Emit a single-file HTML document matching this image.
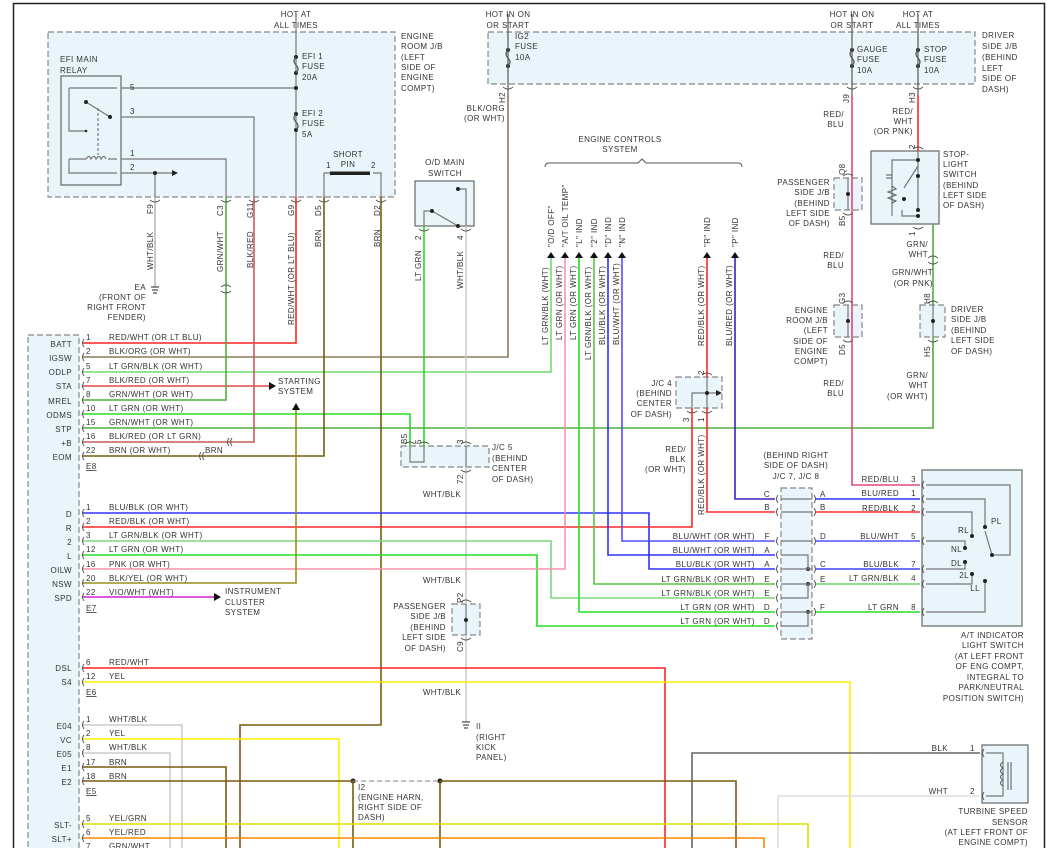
<!DOCTYPE html>
<html><head><meta charset="utf-8"><style>
html,body{margin:0;padding:0;background:#fff}
svg{display:block}
text{font-family:"Liberation Sans",sans-serif;font-size:8px;fill:#333;letter-spacing:.4px}
.w{fill:none;stroke-width:1.6}
.g{fill:none;stroke:#777;stroke-width:1.2}
.box{fill:#e9f5fb;stroke:#888;stroke-width:1.2;stroke-dasharray:6 3}
.sbox{fill:#e9f5fb;stroke:#666;stroke-width:1.2}
</style></head><body>
<svg width="1047" height="848" viewBox="0 0 1047 848" xmlns="http://www.w3.org/2000/svg">
<rect x="13.5" y="3.5" width="1031" height="850" fill="#fff" stroke="#222" stroke-width="1.5"/>

<rect class="box" x="48" y="32" width="347" height="165"/>
<rect class="box" x="488" y="32" width="487" height="52"/>
<rect class="box" x="28" y="335" width="51" height="520"/>
<rect class="box" x="401" y="446" width="88" height="21"/>
<rect class="box" x="676" y="377" width="46" height="31"/>
<rect class="box" x="781" y="488" width="31" height="151"/>
<rect class="box" x="452" y="604" width="28" height="31"/>
<rect class="box" x="834" y="178" width="28" height="32"/>
<rect class="box" x="834" y="305" width="28" height="32"/>
<rect class="box" x="920" y="305" width="25" height="32"/>
<rect class="sbox" x="61" y="76" width="60" height="109" fill="#e9f5fb"/>
<rect class="sbox" x="415" y="181" width="59" height="45"/>
<rect class="sbox" x="871" y="151" width="68" height="73"/>
<rect class="sbox" x="922" y="470" width="100" height="156"/>
<rect class="sbox" x="982" y="745" width="46" height="58"/>

<g class="g">
<path d="M296 14 V197"/>
<path d="M121 88 H296"/><path d="M121 117 H254 V197"/><path d="M121 159 H226 V197"/><path d="M121 173 H172"/>
<path d="M155 173 V197"/>
<path d="M69 88 H117"/><path d="M69 88 V131 H86"/>
<path d="M86 102 L110 117" /><path d="M98 108 V155" stroke-dasharray="3 2"/>
<path d="M69 159 H86 M69 159 V173 H117 M108 159 H117"/>
<path d="M86 159 q3 -5 5 0 q3 -5 5 0 q3 -5 5 0 q3 -5 5 0"/>
<path d="M324 197 V173 H330 M381 197 V173 H373"/>
<path d="M424 226 V211 H432 L458 226 M466 226 V189 H458"/>
<path d="M410 446 V462 H424 V446 M466 446 V467"/>
<path d="M466 604 V635"/>
<path d="M707 377 V408 M692 408 V393 H716"/>
<path d="M848 178 V210 M848 305 V337 M933 305 V337"/>
<path d="M918 151 V210 M918 166 L904 188 M902 210 V216 H918 M918 160 H892 V216 M892 170 V202"/>
</g>
<path d="M892 175 h-6 M892 178 h-6" stroke="#555"/>
<path d="M892 186 l4 3 -8 3 8 3 -8 3 8 3 -4 2" fill="none" stroke="#555"/>
<rect x="330" y="171.5" width="40" height="3.5" fill="#222"/>
<g fill="#222">
<circle cx="296" cy="57" r="2"/><circle cx="296" cy="73" r="2"/><circle cx="296" cy="88" r="2"/>
<circle cx="296" cy="114" r="2"/><circle cx="296" cy="130" r="2"/><circle cx="155" cy="173" r="2"/>
<circle cx="86" cy="102" r="2"/><circle cx="110" cy="117" r="2"/><circle cx="86" cy="131" r="1.3"/>
<circle cx="432" cy="211" r="2"/><circle cx="458" cy="226" r="2"/><circle cx="458" cy="189" r="2"/>
<circle cx="508" cy="50" r="2"/><circle cx="508" cy="66" r="2"/>
<circle cx="852" cy="50" r="2"/><circle cx="852" cy="66" r="2"/>
<circle cx="918" cy="50" r="2"/><circle cx="918" cy="66" r="2"/>
<circle cx="707" cy="393" r="2"/><circle cx="848" cy="194" r="2"/><circle cx="848" cy="321" r="2"/><circle cx="933" cy="321" r="2"/>
<circle cx="466" cy="620" r="2"/>
<circle cx="918" cy="160" r="2"/><circle cx="918" cy="176" r="2"/><circle cx="904" cy="199" r="2"/><circle cx="918" cy="210" r="2"/><circle cx="918" cy="216" r="2"/>
<circle cx="808" cy="569" r="2"/><circle cx="808" cy="584" r="2"/><circle cx="808" cy="612" r="2"/>
<circle cx="353" cy="781" r="2.5"/><circle cx="440" cy="781" r="2.5"/>
<path d="M172 170 l6 3 -6 3z M716 390 l6 3 -6 3z"/>
</g>
<g fill="none" stroke="#555" stroke-width="1.2">
<path d="M296 57 q-4 4 0 8 q4 4 0 8 M296 114 q-4 4 0 8 q4 4 0 8"/>
<path d="M508 50 q-4 4 0 8 q4 4 0 8 M852 50 q-4 4 0 8 q4 4 0 8 M918 50 q-4 4 0 8 q4 4 0 8"/>
<path d="M508 14 V95 M852 14 V95 M918 14 V95"/>
</g>

<g class="w">
<path stroke="#ff2222" d="M296 197 V343 H82"/>
<path stroke="#8c7a60" d="M508 95 V357 H82"/>
<path stroke="#6fdc6f" d="M551 258 V372 H82"/>
<path stroke="#e04848" d="M82 386 H270"/>
<path stroke="#4fae3a" d="M226 197 V400 H82"/>
<path stroke="#20e020" d="M82 414 H410 V446"/>
<path stroke="#20e020" d="M424 226 V446"/>
<path stroke="#4fae3a" d="M82 428 H933 V337"/>
<path stroke="#4fae3a" d="M933 305 V224"/>
<path stroke="#c85a5a" d="M254 197 V442 H82"/>
<path stroke="#7a5a10" d="M324 197 V456 H82"/>
<path stroke="#bbb" d="M155 197 V287"/>
<path stroke="#ccc" d="M466 226 V446 M466 467 V604 M466 635 V722"/>
<path stroke="#7a5a10" d="M381 197 V725 H240 V850"/>
<path stroke="#3030ff" d="M82 513 H649 V569 H775"/>
<path stroke="#ff2828" d="M82 527 H692 V408"/>
<path stroke="#7fd67f" d="M82 541 H551 V598 H775"/>
<path stroke="#22e022" d="M82 555 H537 V626 H775"/>
<path stroke="#ff90a8" d="M82 569 H565 V258"/>
<path stroke="#9a8e20" d="M82 583 H296 V408"/>
<path stroke="#d020d0" d="M82 597 H214"/>
<path stroke="#22e022" d="M579 258 V612 H775"/>
<path stroke="#55c83c" d="M594 258 V584 H775"/>
<path stroke="#3030ff" d="M608 258 V555 H775"/>
<path stroke="#5050ff" d="M622 258 V541 H775"/>
<path stroke="#ff2828" d="M707 258 V377"/>
<path stroke="#ff2828" d="M707 408 V512 H775"/>
<path stroke="#3a20c0" d="M735 258 V499 H775"/>
<path stroke="#e04878" d="M852 95 V485 H920"/>
<path stroke="#ff2828" d="M918 95 V151"/>
<path stroke="#3030ff" d="M816 499 H920"/>
<path stroke="#ff2828" d="M816 512 H920"/>
<path stroke="#5050ff" d="M816 541 H920"/>
<path stroke="#4040ff" d="M816 569 H920"/>
<path stroke="#6fd06f" d="M816 584 H920"/>
<path stroke="#22e022" d="M816 612 H920"/>
<path stroke="#ff2222" d="M82 668 H665 V850"/>
<path stroke="#ffee00" d="M82 682 H850 V850"/>
<path stroke="#ccc" d="M82 725 H182 V850"/>
<path stroke="#ffee00" d="M82 739 H339 V850"/>
<path stroke="#ccc" d="M82 753 H170 V850"/>
<path stroke="#7a5a10" d="M82 767 H226 V850"/>
<path stroke="#7a5a10" d="M82 781 H353 V850"/>
<path stroke="#7a5a10" d="M440 781 H736 V850 M440 781 V850"/>
<path stroke="#666" d="M980 753 H692 V850"/>
<path stroke="#ddd" d="M980 796 H778 V850"/>
<path stroke="#dde000" d="M82 824 H808 V850"/>
<path stroke="#ff8800" d="M82 838 H764 V850"/>
<path stroke="#4fae3a" d="M82 852 H300"/>
</g>
<path d="M353 781 H440" stroke="#888" stroke-dasharray="5 3"/>
<g class="g">
<path d="M781 499 H812 M781 512 H812 M781 541 H812 M781 555 H808 V569 M781 569 H812 M781 584 H812 M781 598 H808 V584 M781 612 H812 M781 626 H808 V612"/>
<path d="M926 485 H1010 V555 H992 M926 499 H985 V527 M926 512 H972 V536 M926 541 H965 V548 M926 569 H965 V562 M926 584 H972 V574 M926 612 H985 V581"/>
<path d="M985 531 L992 555"/>
<path d="M986 753 H1003 V796 H986"/>
</g>
<path d="M1003 762 q-5 3 0 6 q-5 3 0 6 q-5 3 0 6 q-5 3 0 6" fill="none" stroke="#555"/>
<path d="M1008 762 V790 M1011 762 V790" stroke="#555"/>
<g fill="#222"><circle cx="985" cy="527" r="2"/><circle cx="992" cy="555" r="2"/><circle cx="972" cy="536" r="2"/><circle cx="965" cy="548" r="2"/><circle cx="965" cy="562" r="2"/><circle cx="972" cy="574" r="2"/><circle cx="985" cy="581" r="2"/></g>

<g fill="#111">
<path d="M547 258 l4 -6 4 6z M561 258 l4 -6 4 6z M575 258 l4 -6 4 6z M590 258 l4 -6 4 6z M604 258 l4 -6 4 6z M618 258 l4 -6 4 6z M703 258 l4 -6 4 6z M731 258 l4 -6 4 6z"/>
<path d="M269 382 l7 4 -7 4z M292 410 l4 -7 4 7z M214 593 l7 4 -7 4z"/>
</g>
<g stroke="#222"><path d="M151 287 h8 M152 290 h6 M153 293 h4" /><path d="M462 722 h8 M463 725 h6 M464 728 h4"/></g>
<g fill="none" stroke="#555" stroke-width="1">
<path d="M150 200 q5 4 10 0 M221 200 q5 4 10 0 M249 200 q5 4 10 0 M291 200 q5 4 10 0 M319 200 q5 4 10 0 M376 200 q5 4 10 0 M503 87 q5 4 10 0 M847 87 q5 4 10 0 M913 87 q5 4 10 0"/>
<path d="M419 229 q5 4 10 0 M461 229 q5 4 10 0 M221 287 q5 -4 10 0 M221 291 q5 4 10 0"/>
<path d="M84 339 q-3 4 0 8 M84 353 q-3 4 0 8 M84 368 q-3 4 0 8 M84 382 q-3 4 0 8 M84 396 q-3 4 0 8 M84 410 q-3 4 0 8 M84 424 q-3 4 0 8 M84 438 q-3 4 0 8 M84 452 q-3 4 0 8"/>
<path d="M84 509 q-3 4 0 8 M84 523 q-3 4 0 8 M84 537 q-3 4 0 8 M84 551 q-3 4 0 8 M84 565 q-3 4 0 8 M84 579 q-3 4 0 8 M84 593 q-3 4 0 8 M84 664 q-3 4 0 8 M84 678 q-3 4 0 8 M84 721 q-3 4 0 8 M84 735 q-3 4 0 8 M84 749 q-3 4 0 8 M84 763 q-3 4 0 8 M84 777 q-3 4 0 8 M84 820 q-3 4 0 8 M84 834 q-3 4 0 8"/>
<path d="M229 438 q-3 4 0 8 M232 438 q-3 4 0 8 M201 452 q-3 4 0 8 M204 452 q-3 4 0 8"/>
<path d="M778 495 q-3 4 0 8 M778 508 q-3 4 0 8 M778 537 q-3 4 0 8 M778 551 q-3 4 0 8 M778 565 q-3 4 0 8 M778 580 q-3 4 0 8 M778 594 q-3 4 0 8 M778 608 q-3 4 0 8 M778 622 q-3 4 0 8"/>
<path d="M814 495 q3 4 0 8 M814 508 q3 4 0 8 M814 537 q3 4 0 8 M814 565 q3 4 0 8 M814 580 q3 4 0 8 M814 608 q3 4 0 8"/>
<path d="M924 481 q-3 4 0 8 M924 495 q-3 4 0 8 M924 508 q-3 4 0 8 M924 537 q-3 4 0 8 M924 565 q-3 4 0 8 M924 580 q-3 4 0 8 M924 608 q-3 4 0 8 M984 749 q-3 4 0 8 M984 792 q-3 4 0 8"/>
<path d="M405 444 q5 -4 10 0 M419 444 q5 -4 10 0 M461 444 q5 -4 10 0 M461 470 q5 4 10 0 M461 602 q5 -4 10 0 M461 638 q5 4 10 0 M702 375 q5 -4 10 0 M687 411 q5 4 10 0 M702 411 q5 4 10 0"/>
<path d="M843 176 q5 -4 10 0 M843 213 q5 4 10 0 M843 303 q5 -4 10 0 M843 340 q5 4 10 0 M928 303 q5 -4 10 0 M928 340 q5 4 10 0 M913 149 q5 -4 10 0 M913 227 q5 4 10 0 M928 258 q5 -4 10 0 M928 262 q5 4 10 0"/>
<path d="M545 167 q0 -4 4 -4 H638 l4 -4 4 4 H738 q4 0 4 4"/>
</g>

<g>
<text x="296" y="17" text-anchor="middle">HOT AT</text><text x="296" y="28" text-anchor="middle">ALL TIMES</text>
<text x="508" y="17" text-anchor="middle">HOT IN ON</text><text x="508" y="28" text-anchor="middle">OR START</text>
<text x="852" y="17" text-anchor="middle">HOT IN ON</text><text x="852" y="28" text-anchor="middle">OR START</text>
<text x="918" y="17" text-anchor="middle">HOT AT</text><text x="918" y="28" text-anchor="middle">ALL TIMES</text>
<text x="401" y="39">ENGINE</text><text x="401" y="49">ROOM J/B</text><text x="401" y="60">(LEFT</text><text x="401" y="70">SIDE OF</text><text x="401" y="80">ENGINE</text><text x="401" y="91">COMPT)</text>
<text x="60" y="62">EFI MAIN</text><text x="60" y="73">RELAY</text>
<text x="302" y="59">EFI 1</text><text x="302" y="69">FUSE</text><text x="302" y="80">20A</text>
<text x="302" y="116">EFI 2</text><text x="302" y="126">FUSE</text><text x="302" y="137">5A</text>
<text x="130" y="90" font-size="7">5</text><text x="130" y="114" font-size="7">3</text><text x="130" y="156" font-size="7">1</text><text x="130" y="170" font-size="7">2</text>
<text x="348" y="157" text-anchor="middle">SHORT</text><text x="348" y="167" text-anchor="middle">PIN</text>
<text x="326" y="168" font-size="7">1</text><text x="371" y="168" font-size="7">2</text>
<text x="445" y="165" text-anchor="middle">O/D MAIN</text><text x="445" y="176" text-anchor="middle">SWITCH</text>
<text x="515" y="39">IG2</text><text x="515" y="49">FUSE</text><text x="515" y="60">10A</text>
<text x="857" y="52">GAUGE</text><text x="857" y="62">FUSE</text><text x="857" y="73">10A</text>
<text x="924" y="52">STOP</text><text x="924" y="62">FUSE</text><text x="924" y="73">10A</text>
<text x="982" y="38">DRIVER</text><text x="982" y="49">SIDE J/B</text><text x="982" y="60">(BEHIND</text><text x="982" y="71">LEFT</text><text x="982" y="81">SIDE OF</text><text x="982" y="92">DASH)</text>
<text x="505" y="111" text-anchor="end">BLK/ORG</text><text x="505" y="121" text-anchor="end">(OR WHT)</text>
<text x="620" y="142" text-anchor="middle">ENGINE CONTROLS</text><text x="620" y="152" text-anchor="middle">SYSTEM</text>
<text x="844" y="117" text-anchor="end">RED/</text><text x="844" y="127" text-anchor="end">BLU</text>
<text x="913" y="114" text-anchor="end">RED/</text><text x="913" y="124" text-anchor="end">WHT</text><text x="913" y="134" text-anchor="end">(OR PNK)</text>
<text x="943" y="157">STOP-</text><text x="943" y="167">LIGHT</text><text x="943" y="177">SWITCH</text><text x="943" y="188">(BEHIND</text><text x="943" y="198">LEFT SIDE</text><text x="943" y="208">OF DASH)</text>
<text x="830" y="185" text-anchor="end">PASSENGER</text><text x="830" y="195" text-anchor="end">SIDE J/B</text><text x="830" y="206" text-anchor="end">(BEHIND</text><text x="830" y="216" text-anchor="end">LEFT SIDE</text><text x="830" y="226" text-anchor="end">OF DASH)</text>
<text x="844" y="258" text-anchor="end">RED/</text><text x="844" y="268" text-anchor="end">BLU</text>
<text x="928" y="247" text-anchor="end">GRN/</text><text x="928" y="257" text-anchor="end">WHT</text>
<text x="933" y="275" text-anchor="end">GRN/WHT</text><text x="933" y="286" text-anchor="end">(OR PNK)</text>
<text x="828" y="313" text-anchor="end">ENGINE</text><text x="828" y="323" text-anchor="end">ROOM J/B</text><text x="828" y="333" text-anchor="end">(LEFT</text><text x="828" y="344" text-anchor="end">SIDE OF</text><text x="828" y="354" text-anchor="end">ENGINE</text><text x="828" y="364" text-anchor="end">COMPT)</text>
<text x="951" y="312">DRIVER</text><text x="951" y="322">SIDE J/B</text><text x="951" y="333">(BEHIND</text><text x="951" y="343">LEFT SIDE</text><text x="951" y="354">OF DASH)</text>
<text x="844" y="386" text-anchor="end">RED/</text><text x="844" y="396" text-anchor="end">BLU</text>
<text x="928" y="378" text-anchor="end">GRN/</text><text x="928" y="388" text-anchor="end">WHT</text><text x="928" y="399" text-anchor="end">(OR WHT)</text>
<text x="672" y="386" text-anchor="end">J/C 4</text><text x="672" y="396" text-anchor="end">(BEHIND</text><text x="672" y="406" text-anchor="end">CENTER</text><text x="672" y="417" text-anchor="end">OF DASH)</text>
<text x="686" y="452" text-anchor="end">RED/</text><text x="686" y="462" text-anchor="end">BLK</text><text x="686" y="472" text-anchor="end">(OR WHT)</text>
<text x="796" y="458" text-anchor="middle">(BEHIND RIGHT</text><text x="796" y="468" text-anchor="middle">SIDE OF DASH)</text><text x="796" y="479" text-anchor="middle">J/C 7, J/C 8</text>
<text x="492" y="450">J/C 5</text><text x="492" y="461">(BEHIND</text><text x="492" y="471">CENTER</text><text x="492" y="482">OF DASH)</text>
<text x="442" y="497" text-anchor="middle">WHT/BLK</text><text x="442" y="583" text-anchor="middle">WHT/BLK</text><text x="442" y="695" text-anchor="middle">WHT/BLK</text>
<text x="446" y="609" text-anchor="end">PASSENGER</text><text x="446" y="619" text-anchor="end">SIDE J/B</text><text x="446" y="630" text-anchor="end">(BEHIND</text><text x="446" y="640" text-anchor="end">LEFT SIDE</text><text x="446" y="651" text-anchor="end">OF DASH)</text>
<text x="146" y="290" text-anchor="end">EA</text><text x="146" y="300" text-anchor="end">(FRONT OF</text><text x="146" y="310" text-anchor="end">RIGHT FRONT</text><text x="146" y="320" text-anchor="end">FENDER)</text>
<text x="278" y="384">STARTING</text><text x="278" y="394">SYSTEM</text>
<text x="225" y="594">INSTRUMENT</text><text x="225" y="605">CLUSTER</text><text x="225" y="615">SYSTEM</text>
<text x="205" y="453">BRN</text>
<text x="476" y="729">II</text><text x="476" y="740">(RIGHT</text><text x="476" y="750">KICK</text><text x="476" y="760">PANEL)</text>
<text x="358" y="790">I2</text><text x="358" y="800">(ENGINE HARN,</text><text x="358" y="810">RIGHT SIDE OF</text><text x="358" y="820">DASH)</text>
<text x="1024" y="638" text-anchor="end">A/T INDICATOR</text><text x="1024" y="648" text-anchor="end">LIGHT SWITCH</text><text x="1024" y="659" text-anchor="end">(AT LEFT FRONT</text><text x="1024" y="669" text-anchor="end">OF ENG COMPT,</text><text x="1024" y="680" text-anchor="end">INTEGRAL TO</text><text x="1024" y="690" text-anchor="end">PARK/NEUTRAL</text><text x="1024" y="701" text-anchor="end">POSITION SWITCH)</text>
<text x="1028" y="814" text-anchor="end">TURBINE SPEED</text><text x="1028" y="825" text-anchor="end">SENSOR</text><text x="1028" y="835" text-anchor="end">(AT LEFT FRONT OF</text><text x="1028" y="845" text-anchor="end">ENGINE COMPT)</text>
<text x="948" y="751" text-anchor="end">BLK</text><text x="970" y="751" font-size="7">1</text>
<text x="948" y="794" text-anchor="end">WHT</text><text x="970" y="794" font-size="7">2</text>
<text x="899" y="482" text-anchor="end">RED/BLU</text><text x="916" y="482" text-anchor="end" font-size="7">3</text>
<text x="899" y="496" text-anchor="end">BLU/RED</text><text x="916" y="496" text-anchor="end" font-size="7">1</text>
<text x="899" y="511" text-anchor="end">RED/BLK</text><text x="916" y="511" text-anchor="end" font-size="7">2</text>
<text x="899" y="539" text-anchor="end">BLU/WHT</text><text x="916" y="539" text-anchor="end" font-size="7">5</text>
<text x="899" y="567" text-anchor="end">BLU/BLK</text><text x="916" y="567" text-anchor="end" font-size="7">7</text>
<text x="899" y="581" text-anchor="end">LT GRN/BLK</text><text x="916" y="581" text-anchor="end" font-size="7">4</text>
<text x="899" y="610" text-anchor="end">LT GRN</text><text x="916" y="610" text-anchor="end" font-size="7">8</text>
<text x="969" y="533" text-anchor="end">RL</text><text x="991" y="524">PL</text><text x="962" y="552" text-anchor="end">NL</text><text x="962" y="566" text-anchor="end">DL</text><text x="969" y="578" text-anchor="end">2L</text><text x="980" y="591" text-anchor="end">LL</text>
<text x="820" y="497" font-size="7">A</text><text x="820" y="510" font-size="7">B</text><text x="820" y="539" font-size="7">D</text><text x="820" y="567" font-size="7">C</text><text x="820" y="582" font-size="7">E</text><text x="820" y="610" font-size="7">F</text>
<text x="770" y="497" text-anchor="end" font-size="7">C</text><text x="770" y="510" text-anchor="end" font-size="7">B</text>
<text x="755" y="539" text-anchor="end">BLU/WHT (OR WHT)</text><text x="770" y="539" text-anchor="end" font-size="7">F</text>
<text x="755" y="553" text-anchor="end">BLU/WHT (OR WHT)</text><text x="770" y="553" text-anchor="end" font-size="7">A</text>
<text x="755" y="567" text-anchor="end">BLU/BLK (OR WHT)</text><text x="770" y="567" text-anchor="end" font-size="7">A</text>
<text x="755" y="582" text-anchor="end">LT GRN/BLK (OR WHT)</text><text x="770" y="582" text-anchor="end" font-size="7">E</text>
<text x="755" y="596" text-anchor="end">LT GRN/BLK (OR WHT)</text><text x="770" y="596" text-anchor="end" font-size="7">E</text>
<text x="755" y="610" text-anchor="end">LT GRN (OR WHT)</text><text x="770" y="610" text-anchor="end" font-size="7">D</text>
<text x="755" y="624" text-anchor="end">LT GRN (OR WHT)</text><text x="770" y="624" text-anchor="end" font-size="7">D</text>
<g text-anchor="end">
<text x="72" y="347">BATT</text><text x="72" y="361">IGSW</text><text x="72" y="375">ODLP</text><text x="72" y="389">STA</text><text x="72" y="404">MREL</text><text x="72" y="418">ODMS</text><text x="72" y="432">STP</text><text x="72" y="446">+B</text><text x="72" y="460">EOM</text>
<text x="72" y="517">D</text><text x="72" y="531">R</text><text x="72" y="545">2</text><text x="72" y="559">L</text><text x="72" y="573">OILW</text><text x="72" y="587">NSW</text><text x="72" y="601">SPD</text>
<text x="72" y="671">DSL</text><text x="72" y="685">S4</text>
<text x="72" y="729">E04</text><text x="72" y="743">VC</text><text x="72" y="757">E05</text><text x="72" y="771">E1</text><text x="72" y="785">E2</text>
<text x="72" y="828">SLT-</text><text x="72" y="842">SLT+</text>
</g>
<g font-size="7.5">
<text x="86" y="340">1</text><text x="109" y="340">RED/WHT (OR LT BLU)</text>
<text x="86" y="354">2</text><text x="109" y="354">BLK/ORG (OR WHT)</text>
<text x="86" y="369">5</text><text x="109" y="369">LT GRN/BLK (OR WHT)</text>
<text x="86" y="383">7</text><text x="109" y="383">BLK/RED (OR WHT)</text>
<text x="86" y="397">8</text><text x="109" y="397">GRN/WHT (OR WHT)</text>
<text x="86" y="411">10</text><text x="109" y="411">LT GRN (OR WHT)</text>
<text x="86" y="425">15</text><text x="109" y="425">GRN/WHT (OR WHT)</text>
<text x="86" y="439">16</text><text x="109" y="439">BLK/RED (OR LT GRN)</text>
<text x="86" y="453">22</text><text x="109" y="453">BRN (OR WHT)</text>
<text x="86" y="469" text-decoration="underline">E8</text>
<text x="86" y="510">1</text><text x="109" y="510">BLU/BLK (OR WHT)</text>
<text x="86" y="524">2</text><text x="109" y="524">RED/BLK (OR WHT)</text>
<text x="86" y="538">3</text><text x="109" y="538">LT GRN/BLK (OR WHT)</text>
<text x="86" y="552">12</text><text x="109" y="552">LT GRN (OR WHT)</text>
<text x="86" y="567">16</text><text x="109" y="567">PNK (OR WHT)</text>
<text x="86" y="581">20</text><text x="109" y="581">BLK/YEL (OR WHT)</text>
<text x="86" y="595">22</text><text x="109" y="595">VIO/WHT (WHT)</text>
<text x="86" y="611" text-decoration="underline">E7</text>
<text x="86" y="665">6</text><text x="109" y="665">RED/WHT</text>
<text x="86" y="679">12</text><text x="109" y="679">YEL</text>
<text x="86" y="695" text-decoration="underline">E6</text>
<text x="86" y="722">1</text><text x="109" y="722">WHT/BLK</text>
<text x="86" y="736">2</text><text x="109" y="736">YEL</text>
<text x="86" y="750">8</text><text x="109" y="750">WHT/BLK</text>
<text x="86" y="765">17</text><text x="109" y="765">BRN</text>
<text x="86" y="779">18</text><text x="109" y="779">BRN</text>
<text x="86" y="794" text-decoration="underline">E5</text>
<text x="86" y="821">5</text><text x="109" y="821">YEL/GRN</text>
<text x="86" y="835">6</text><text x="109" y="835">YEL/RED</text>
<text x="86" y="849">7</text><text x="109" y="849">GRN/WHT</text>
</g>
<g font-size="7.5">
<text transform="translate(153,214) rotate(-90)">F9</text>
<text transform="translate(223,216) rotate(-90)">C3</text>
<text transform="translate(253,218) rotate(-90)">G11</text>
<text transform="translate(294,216) rotate(-90)">G9</text>
<text transform="translate(321,216) rotate(-90)">D5</text>
<text transform="translate(380,216) rotate(-90)">D2</text>
<text transform="translate(153,270) rotate(-90)">WHT/BLK</text>
<text transform="translate(223,272) rotate(-90)">GRN/WHT</text>
<text transform="translate(253,268) rotate(-90)">BLK/RED</text>
<text transform="translate(294,325) rotate(-90)">RED/WHT (OR LT BLU)</text>
<text transform="translate(321,247) rotate(-90)">BRN</text>
<text transform="translate(380,247) rotate(-90)">BRN</text>
<text transform="translate(421,240) rotate(-90)">2</text><text transform="translate(463,240) rotate(-90)">4</text>
<text transform="translate(421,281) rotate(-90)">LT GRN</text>
<text transform="translate(463,289) rotate(-90)">WHT/BLK</text>
<text transform="translate(505,103) rotate(-90)">H2</text>
<text transform="translate(849,103) rotate(-90)">J9</text>
<text transform="translate(915,103) rotate(-90)">H3</text>
<text transform="translate(915,149) rotate(-90)">2</text>
<text transform="translate(915,236) rotate(-90)">1</text>
<text transform="translate(845,175) rotate(-90)">Q8</text>
<text transform="translate(845,226) rotate(-90)">B5</text>
<text transform="translate(845,304) rotate(-90)">G3</text>
<text transform="translate(845,355) rotate(-90)">D5</text>
<text transform="translate(930,304) rotate(-90)">H8</text>
<text transform="translate(930,357) rotate(-90)">H5</text>
<text transform="translate(407,444) rotate(-90)">B5</text>
<text transform="translate(421,444) rotate(-90)">5</text>
<text transform="translate(463,444) rotate(-90)">3</text>
<text transform="translate(463,484) rotate(-90)">72</text>
<text transform="translate(463,603) rotate(-90)">P2</text>
<text transform="translate(463,652) rotate(-90)">C9</text>
<text transform="translate(704,375) rotate(-90)">2</text>
<text transform="translate(689,422) rotate(-90)">3</text>
<text transform="translate(704,422) rotate(-90)">1</text>
<text transform="translate(554,247) rotate(-90)">"O/D OFF"</text>
<text transform="translate(568,247) rotate(-90)">"A/T OIL TEMP"</text>
<text transform="translate(582,247) rotate(-90)">"L" IND</text>
<text transform="translate(597,247) rotate(-90)">"2" IND</text>
<text transform="translate(611,247) rotate(-90)">"D" IND</text>
<text transform="translate(625,247) rotate(-90)">"N" IND</text>
<text transform="translate(710,247) rotate(-90)">"R" IND</text>
<text transform="translate(738,247) rotate(-90)">"P" IND</text>
<text transform="translate(548,345) rotate(-90)">LT GRN/BLK (WHT)</text>
<text transform="translate(562,340) rotate(-90)">LT GRN (OR WHT)</text>
<text transform="translate(576,340) rotate(-90)">LT GRN (OR WHT)</text>
<text transform="translate(591,360) rotate(-90)">LT GRN/BLK (OR WHT)</text>
<text transform="translate(605,345) rotate(-90)">BLU/BLK (OR WHT)</text>
<text transform="translate(619,345) rotate(-90)">BLU/WHT (OR WHT)</text>
<text transform="translate(704,346) rotate(-90)">RED/BLK (OR WHT)</text>
<text transform="translate(732,346) rotate(-90)">BLU/RED (OR WHT)</text>
<text transform="translate(704,515) rotate(-90)">RED/BLK (OR WHT)</text>
</g>
</g>
</svg>
</body></html>
